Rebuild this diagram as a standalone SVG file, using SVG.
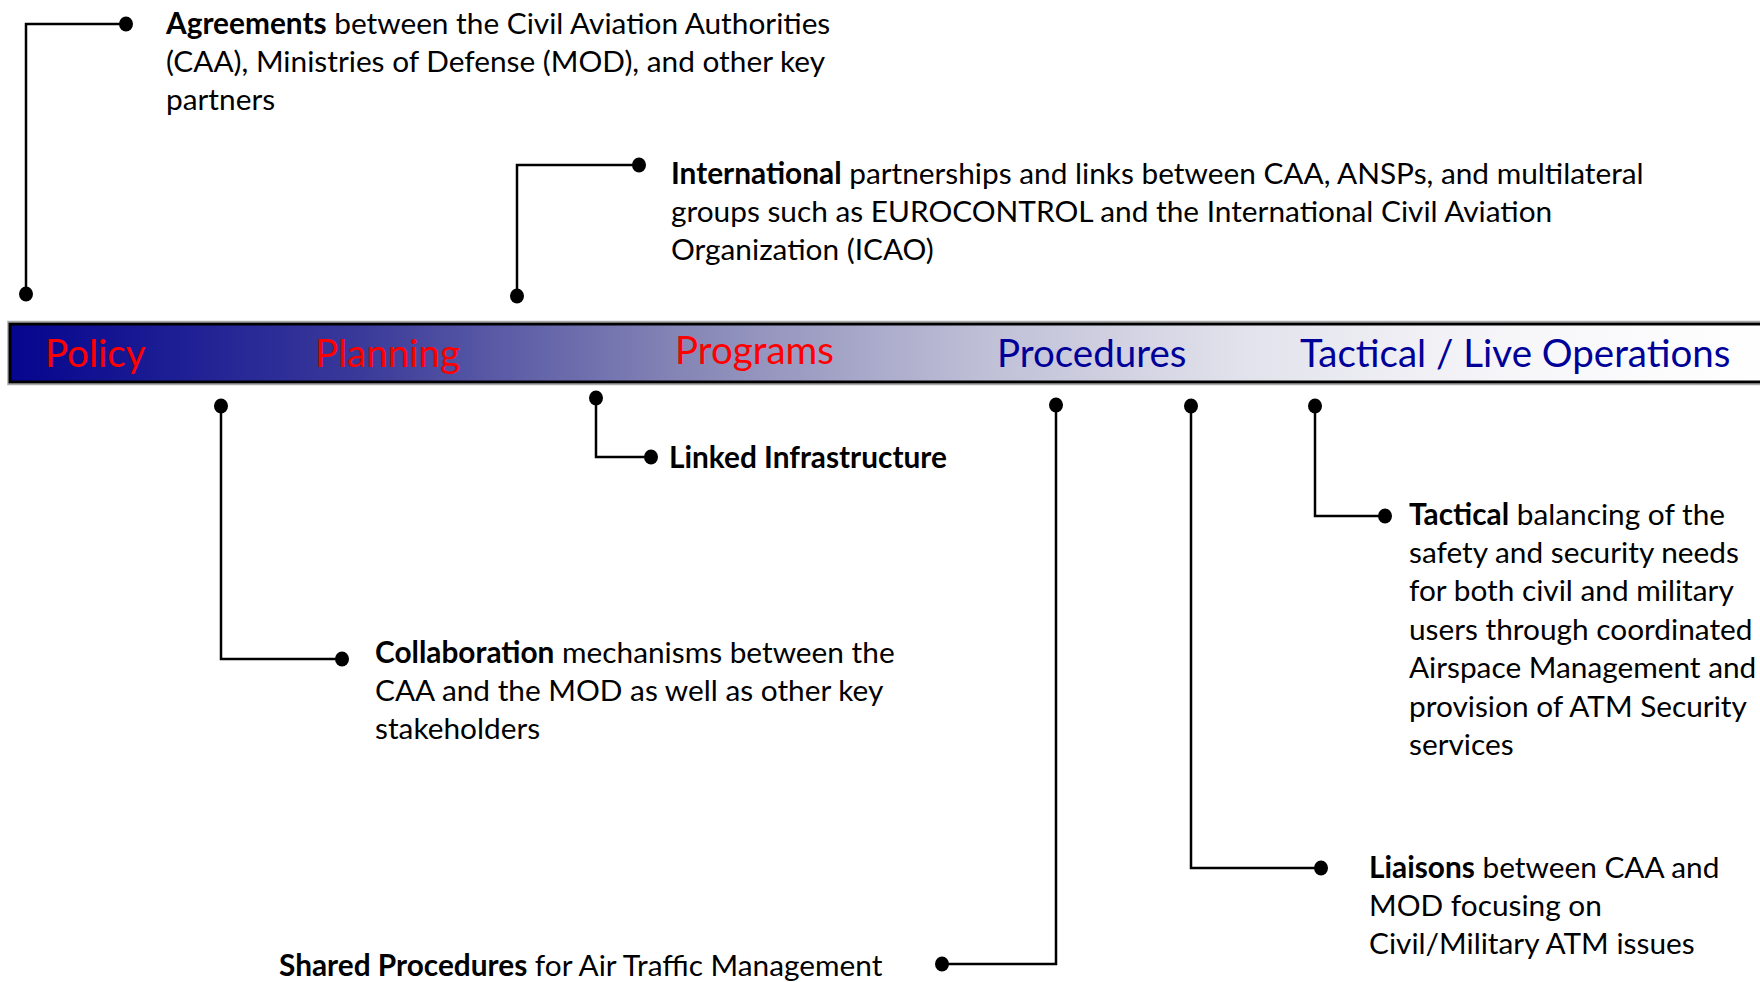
<svg xmlns="http://www.w3.org/2000/svg" width="1760" height="982" viewBox="0 0 1760 982">
<style>
.t{font-family:Lato,"Liberation Sans",sans-serif;font-size:29.8px;fill:#000}
.b{font-weight:bold}
.lbl{font-family:Lato,"Liberation Sans",sans-serif;font-size:38.5px}
.red{fill:#ff0000}
.blue{fill:#000099}
.ln{fill:none;stroke:#000;stroke-width:2.5}
.dot{fill:#000}
</style>
<defs>
<linearGradient id="g" x1="0" y1="0" x2="1" y2="0">
<stop offset="0" stop-color="#05058f"/>
<stop offset="0.2" stop-color="#3a3a9a"/>
<stop offset="0.38" stop-color="#8585b6"/>
<stop offset="0.55" stop-color="#bebed6"/>
<stop offset="0.7" stop-color="#e2e2ec"/>
<stop offset="0.85" stop-color="#f6f6f9"/>
<stop offset="1" stop-color="#ffffff"/>
</linearGradient>
</defs>
<rect width="1760" height="982" fill="#fff"/>
<g id="bar">
<rect x="8" y="321.5" width="1770" height="63" fill="none" stroke="#aaa" stroke-width="1.5"/>
<rect x="10" y="324" width="1760" height="58" fill="url(#g)" stroke="#000" stroke-width="3"/>
<text class="lbl red" x="45" y="367">Policy</text>
<text class="lbl red" x="315" y="367">Planning</text>
<text class="lbl red" x="675" y="364">Programs</text>
<text class="lbl blue" x="997" y="367">Procedures</text>
<text class="lbl blue" x="1300" y="367">Tactical / Live Operations</text>
</g>
<g id="connectors">
<polyline class="ln" points="26,294 26,24 126,24"/>
<polyline class="ln" points="517,296 517,165 639,165"/>
<polyline class="ln" points="221,406 221,659 342,659"/>
<polyline class="ln" points="596,398 596,457 651,457"/>
<polyline class="ln" points="1056,405 1056,964 942,964"/>
<polyline class="ln" points="1191,406 1191,868 1321,868"/>
<polyline class="ln" points="1315,406 1315,516 1385,516"/>
<ellipse class="dot" cx="26" cy="294" rx="7" ry="7.5"/><ellipse class="dot" cx="126" cy="24" rx="7" ry="7.5"/>
<ellipse class="dot" cx="517" cy="296" rx="7" ry="7.5"/><ellipse class="dot" cx="639" cy="165" rx="7" ry="7.5"/>
<ellipse class="dot" cx="221" cy="406" rx="7" ry="7.5"/><ellipse class="dot" cx="342" cy="659" rx="7" ry="7.5"/>
<ellipse class="dot" cx="596" cy="398" rx="7" ry="7.5"/><ellipse class="dot" cx="651" cy="457" rx="7" ry="7.5"/>
<ellipse class="dot" cx="1056" cy="405" rx="7" ry="7.5"/><ellipse class="dot" cx="942" cy="964" rx="7" ry="7.5"/>
<ellipse class="dot" cx="1191" cy="406" rx="7" ry="7.5"/><ellipse class="dot" cx="1321" cy="868" rx="7" ry="7.5"/>
<ellipse class="dot" cx="1315" cy="406" rx="7" ry="7.5"/><ellipse class="dot" cx="1385" cy="516" rx="7" ry="7.5"/>
</g>
<g id="agreements">
<text class="t" x="166" y="34"><tspan class="b">Agreements</tspan> between the Civil Aviation Authorities</text>
<text class="t" x="166" y="72">(CAA), Ministries of Defense (MOD), and other key</text>
<text class="t" x="166" y="110">partners</text>
</g>
<g id="international">
<text class="t" x="671" y="184"><tspan class="b">International</tspan> partnerships and links between CAA, ANSPs, and multilateral</text>
<text class="t" x="671" y="222">groups such as EUROCONTROL and the International Civil Aviation</text>
<text class="t" x="671" y="260">Organization (ICAO)</text>
</g>
<g id="collaboration">
<text class="t" x="375" y="663"><tspan class="b">Collaboration</tspan> mechanisms between the</text>
<text class="t" x="375" y="701">CAA and the MOD as well as other key</text>
<text class="t" x="375" y="739">stakeholders</text>
</g>
<g id="linked">
<text class="t b" x="669" y="468">Linked Infrastructure</text>
</g>
<g id="shared">
<text class="t" x="279" y="976"><tspan class="b">Shared Procedures</tspan> for Air Traffic Management</text>
</g>
<g id="liaisons">
<text class="t" x="1369" y="878"><tspan class="b">Liaisons</tspan> between CAA and</text>
<text class="t" x="1369" y="916">MOD focusing on</text>
<text class="t" x="1369" y="954">Civil/Military ATM issues</text>
</g>
<g id="tactical">
<text class="t" x="1409" y="525"><tspan class="b">Tactical</tspan> balancing of the</text>
<text class="t" x="1409" y="563">safety and security needs</text>
<text class="t" x="1409" y="601">for both civil and military</text>
<text class="t" x="1409" y="640">users through coordinated</text>
<text class="t" x="1409" y="678">Airspace Management and</text>
<text class="t" x="1409" y="717">provision of ATM Security</text>
<text class="t" x="1409" y="755">services</text>
</g>
</svg>
